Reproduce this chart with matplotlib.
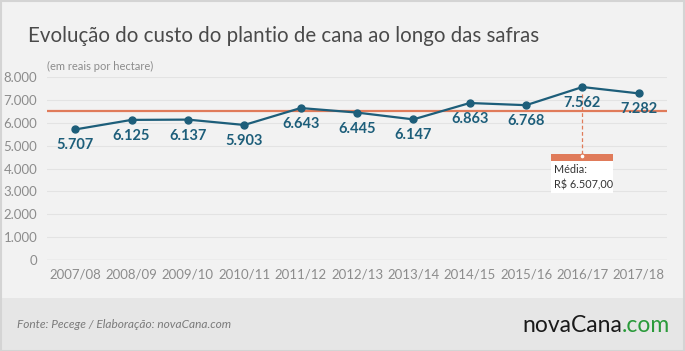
import matplotlib.pyplot as plt
from matplotlib.patches import Rectangle

safras = ['2007/08', '2008/09', '2009/10', '2010/11', '2011/12', '2012/13',
          '2013/14', '2014/15', '2015/16', '2016/17', '2017/18']
custo = [5707, 6125, 6137, 5903, 6643, 6445, 6147, 6863, 6768, 7562, 7282]
rotulos = ['5.707', '6.125', '6.137', '5.903', '6.643', '6.445',
           '6.147', '6.863', '6.768', '7.562', '7.282']
yticks = [0, 1000, 2000, 3000, 4000, 5000, 6000, 7000, 8000]
ytick_labels = ['0', '1.000', '2.000', '3.000', '4.000', '5.000',
                '6.000', '7.000', '8.000']
media = sum(custo) / len(custo)

plt.rcParams['font.family'] = ['Lato', 'DejaVu Sans']

azul = '#1d5e7a'
laranja = '#e07b5a'
cinza = '#8c8c8c'

W, H = 685, 351
fig = plt.figure(figsize=(W / 100, H / 100), dpi=100)
fig.patch.set_facecolor('#f2f2f2')

# footer band + border
fig.add_artist(Rectangle((0, 0), 1, 53 / H, transform=fig.transFigure,
                         facecolor='#e6e6e6', edgecolor='none', zorder=0))
fig.add_artist(Rectangle((0.5 / W, 0.5 / H), 1 - 1.5 / W, 1 - 1.5 / H,
                         transform=fig.transFigure, facecolor='none',
                         edgecolor='#d4d4d4', lw=1.5, zorder=5))

ax = fig.add_axes([47 / W, 1 - 260 / H, (667 - 47) / W, (260 - 77) / H])
ax.set_facecolor('none')
x = list(range(len(safras)))
ax.set_xlim(-0.5, len(safras) - 0.5)
ax.set_ylim(0, 8000)

ax.set_yticks(yticks)
ax.set_yticklabels(ytick_labels)
ax.set_xticks(x)
ax.set_xticklabels(safras)
ax.tick_params(length=0, colors=cinza, labelsize=9.5)
ax.tick_params(axis='y', pad=7)
ax.tick_params(axis='x', pad=6)
ax.grid(axis='y', color='#e3e3e3', lw=0.8)
for s in ax.spines.values():
    s.set_visible(False)
ax.axhline(0, color='#d8d8d8', lw=1)

ax.axhline(media, color=laranja, lw=1.6, zorder=2)
ax.plot(x, custo, color=azul, lw=1.6, marker='o', markersize=5, zorder=3)
for xi, v, t in zip(x, custo, rotulos):
    ax.annotate(t, (xi, v), xytext=(0, -6.5), textcoords='offset points',
                ha='center', va='top', color=azul, fontsize=10.5,
                fontweight='bold')

# annotation for average
i_max = custo.index(max(custo))
ax.plot([i_max, i_max], [max(custo) - 300, 4546], color=laranja, lw=0.9,
        ls=(0, (3, 2)), zorder=2)
ax.plot([i_max], [4546], marker='o', markersize=3.5, mfc='white',
        mec=laranja, mew=0.8, zorder=5)
ax.add_patch(Rectangle((i_max - 0.55, 4330), 1.1, 300, facecolor=laranja,
                       edgecolor='none', zorder=4))
ax.add_patch(Rectangle((i_max - 0.55, 2950), 1.1, 1380, facecolor='white',
                       edgecolor='none', zorder=4))
ax.text(i_max - 0.51, 3620, 'Média:\nR$ 6.507,00', fontsize=7.8,
        color='#333333', va='center', ha='left', linespacing=1.5, zorder=6)

fig.text(28 / W, 1 - 36 / H, 'Evolução do custo do plantio de cana ao longo das safras',
         fontsize=14.8, color='#4a4a4a', va='center', ha='left')
fig.text(47 / W, 1 - 66 / H, '(em reais por hectare)', fontsize=8,
         color=cinza, va='center', ha='left')
fig.text(17 / W, 1 - 324 / H, 'Fonte: Pecege / Elaboração: novaCana.com',
         fontsize=8.6, color='#7a7a7a', style='italic', va='center', ha='left')
fig.text(622 / W, 1 - 325 / H, 'novaCana', fontsize=16.5, color='#1a1a1a',
         va='center', ha='right')
fig.text(622 / W, 1 - 325 / H, '.com', fontsize=16.5, color='#2a9a3a',
         va='center', ha='left')

fig.savefig('out.png', dpi=100, facecolor=fig.get_facecolor())
